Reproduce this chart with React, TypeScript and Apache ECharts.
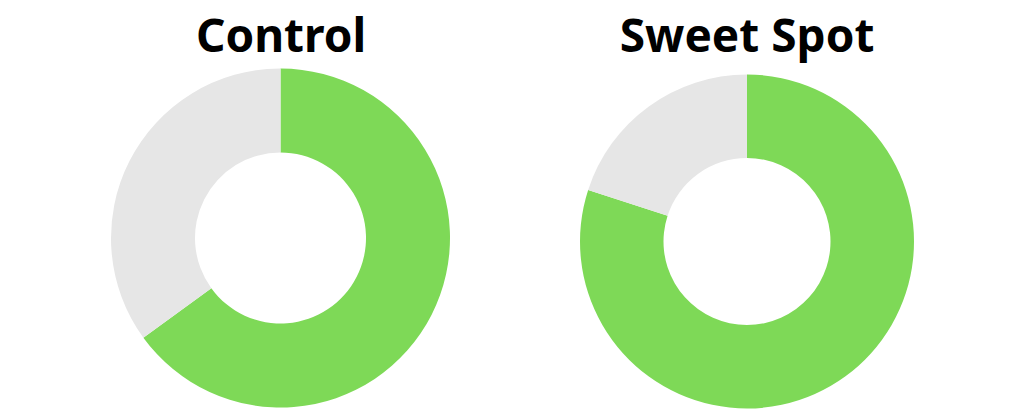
import { useEffect, useRef } from "react"
import * as echarts from "echarts"

const titles = ["Control", "Sweet Spot"]
const sliceNames = ["Converted", "Other"]
const controlValues = [65, 35]
const sweetSpotValues = [80, 20]
const sliceColors = ["#7ED957", "#E6E6E6"]

export default function App() {
  const chartRef = useRef<HTMLDivElement>(null)

  useEffect(() => {
    if (!chartRef.current) return
    const chart = echarts.init(chartRef.current, undefined, { renderer: "svg" })

    const makeData = (values: number[]) =>
      values.map((value, i) => ({
        name: sliceNames[i],
        value,
        itemStyle: { color: sliceColors[i] }
      }))

    const titleStyle = {
      fill: "#000",
      font: "bold 46px 'Noto Sans', sans-serif",
      align: "center",
      verticalAlign: "middle"
    }

    chart.setOption({
      animation: false,
      backgroundColor: "#fff",
      graphic: [
        { type: "text", x: 281, y: 34, style: { ...titleStyle, text: titles[0] } },
        { type: "text", x: 747, y: 34, style: { ...titleStyle, text: titles[1] } }
      ],
      series: [
        {
          type: "pie",
          name: titles[0],
          center: [280.5, 238],
          radius: [85.5, 169.5],
          startAngle: 90,
          silent: true,
          label: { show: false },
          labelLine: { show: false },
          data: makeData(controlValues)
        },
        {
          type: "pie",
          name: titles[1],
          center: [747, 241.5],
          radius: [83.5, 167],
          startAngle: 90,
          silent: true,
          label: { show: false },
          labelLine: { show: false },
          data: makeData(sweetSpotValues)
        }
      ]
    })

    return () => {
      chart.dispose()
    }
  }, [])

  return (
    <div
      ref={chartRef}
      style={{ position: "fixed", left: 0, top: 0, width: 1024, height: 416 }}
    />
  )
}
